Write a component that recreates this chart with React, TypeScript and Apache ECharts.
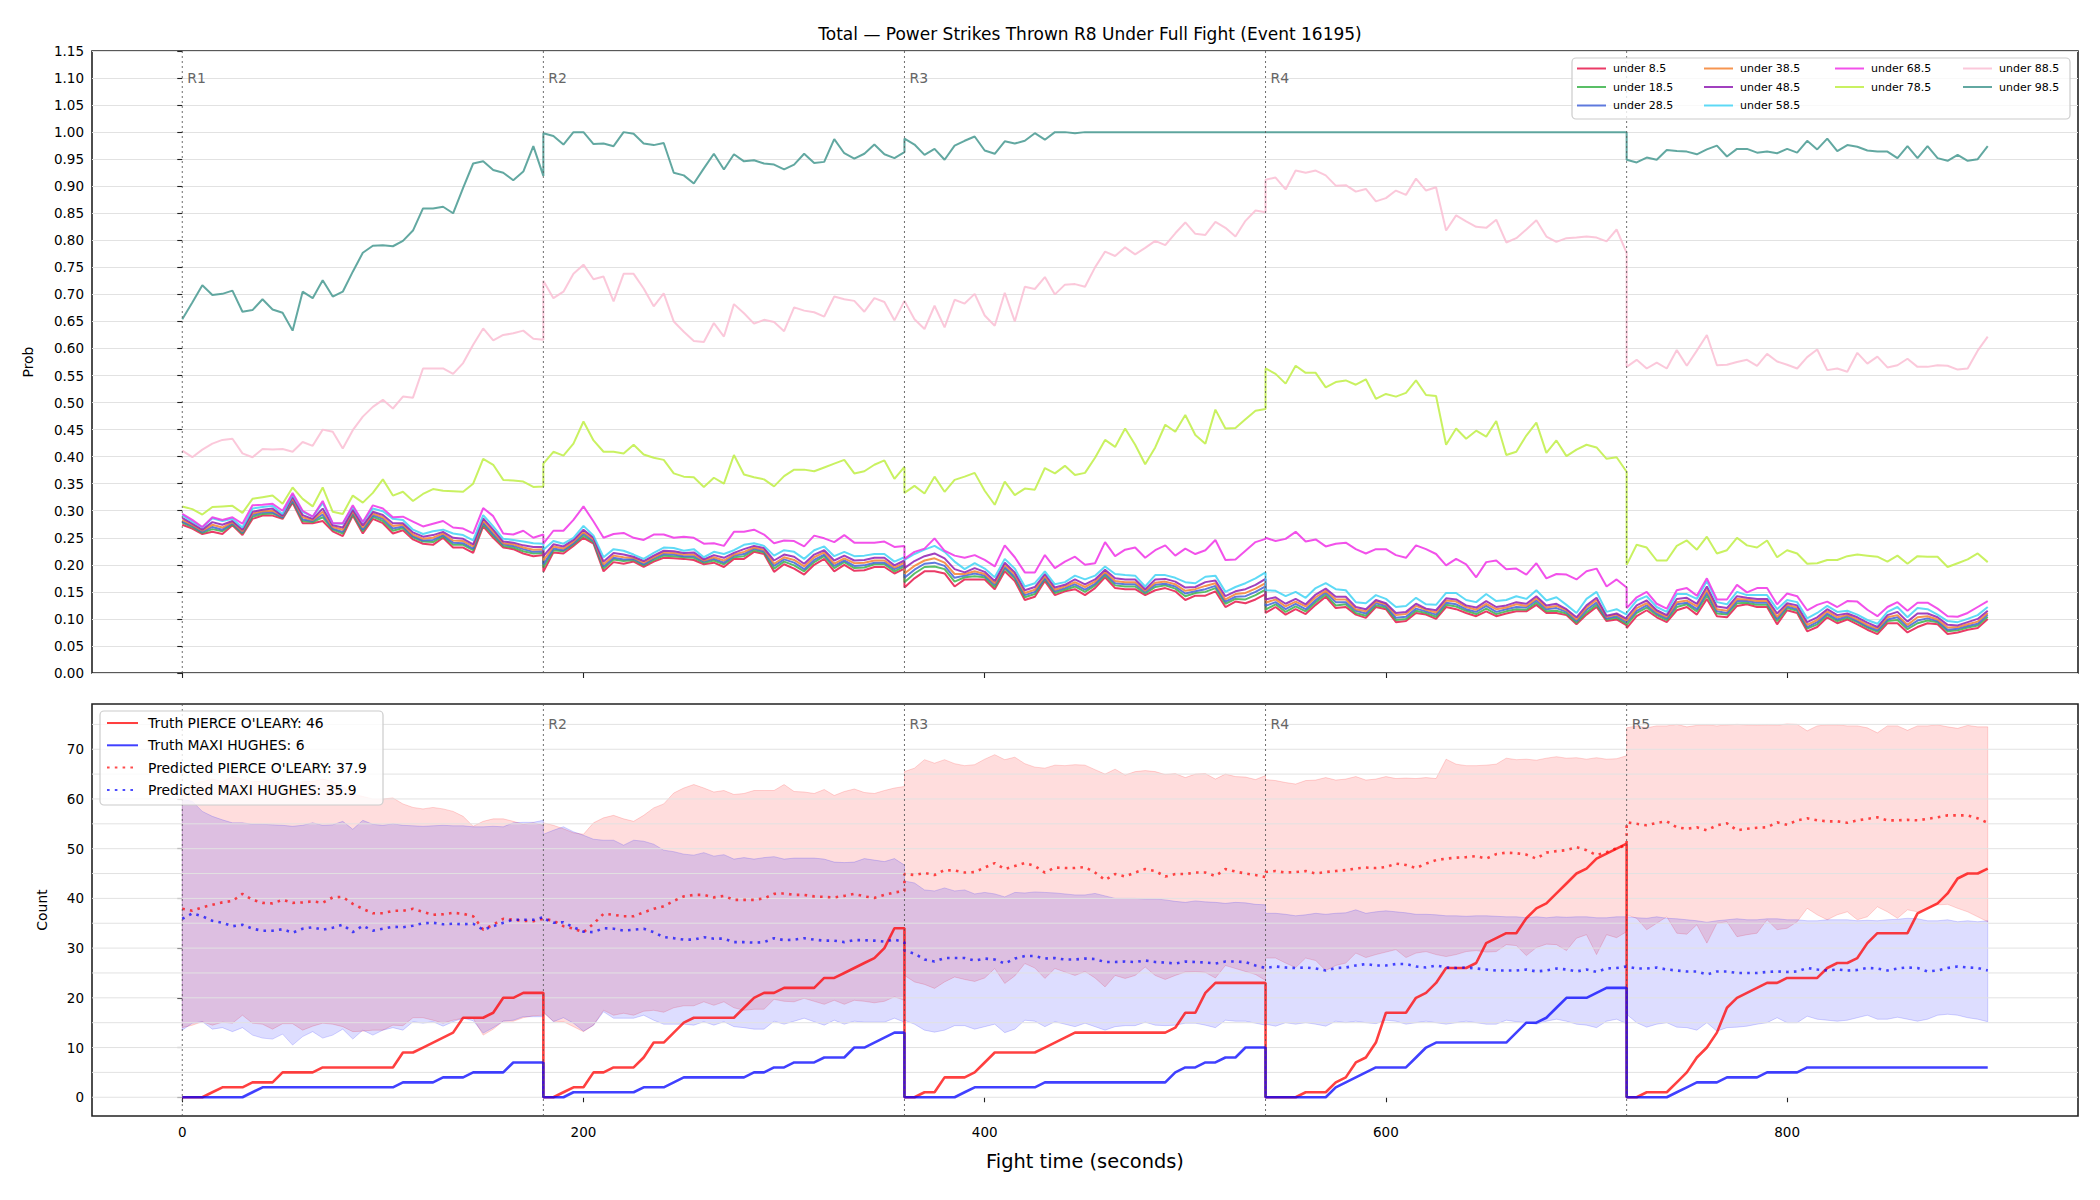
import React, { useEffect, useRef } from "react";
import * as echarts from "echarts";

const FONT = "DejaVu Sans";
const TITLE = "Total — Power Strikes Thrown R8 Under Full Fight (Event 16195)";

// Each round is sampled every 5 s; the round edges appear twice (end of one round, start of the next).
const ROUND_SECONDS = 180;
const STEP_SECONDS = 5;
const ROUND_COUNT = 5;
const ROUND_LABELS = ["R1", "R2", "R3", "R4", "R5"];
const ROUND_STARTS = [0, 180, 360, 540, 720];
const TIMES: number[] = [];
for (let r = 0; r < ROUND_COUNT; r++) {
  for (let k = 0; k <= ROUND_SECONDS / STEP_SECONDS; k++) TIMES.push(r * ROUND_SECONDS + k * STEP_SECONDS);
}

const X_TICKS = [0, 200, 400, 600, 800];
const COUNT_TICKS = [0, 10, 20, 30, 40, 50, 60, 70];
const COUNT_GRID = [0, 5, 10, 15, 20, 25, 30, 35, 40, 45, 50, 55, 60, 65, 70, 75];

const THRESHOLDS = ["under 8.5", "under 18.5", "under 28.5", "under 38.5", "under 48.5", "under 58.5", "under 68.5", "under 78.5", "under 88.5", "under 98.5"];
const LINE_COLORS = ["#e6194b", "#3cb44b", "#4363d8", "#f58231", "#911eb4", "#42d4f4", "#f032e6", "#bfef45", "#fabed4", "#469990"];

// Probability of finishing under each line, one value per sample
const P8 = [
  .274,.267,.257,.261,.257,.273,.255,.285,.291,.291,.285,.315,.277,.277,.281,.262,.253,.291,.258,.285,.277,.258,.264,.247,.239,.237,.250,.232,.232,.222,.271,.250,.232,.229,.221,.216,.218,
  .187,.223,.221,.235,.250,.239,.188,.205,.202,.206,.196,.206,.213,.212,.211,.209,.201,.204,.196,.211,.211,.224,.220,.187,.201,.193,.182,.200,.211,.188,.200,.189,.190,.196,.196,.184,.193,
  .158,.175,.188,.188,.184,.160,.173,.173,.173,.155,.188,.170,.135,.141,.170,.144,.151,.155,.144,.157,.177,.157,.155,.155,.144,.153,.157,.151,.135,.143,.143,.151,.122,.132,.129,.136,.146,
  .111,.122,.108,.118,.109,.126,.141,.120,.122,.108,.102,.122,.118,.094,.096,.111,.108,.100,.122,.118,.111,.105,.114,.105,.110,.114,.114,.126,.111,.111,.107,.090,.108,.122,.096,.099,.088,
  .083,.105,.116,.103,.094,.116,.122,.108,.137,.105,.103,.124,.127,.122,.122,.090,.116,.111,.077,.085,.103,.092,.099,.090,.080,.072,.092,.092,.075,.085,.092,.090,.072,.075,.080,.083,.100,
];
const P18 = [
  .278,.270,.259,.266,.262,.275,.258,.289,.294,.295,.287,.318,.281,.279,.288,.265,.258,.294,.262,.289,.281,.263,.268,.251,.243,.242,.253,.237,.237,.227,.275,.254,.235,.232,.225,.221,.222,
  .195,.227,.225,.238,.254,.242,.193,.210,.207,.209,.199,.209,.217,.216,.214,.213,.204,.208,.201,.214,.216,.227,.223,.193,.206,.199,.188,.205,.216,.194,.205,.194,.195,.201,.201,.188,.197,
  .168,.184,.196,.197,.192,.169,.177,.179,.177,.159,.193,.175,.140,.146,.174,.148,.154,.160,.150,.162,.181,.162,.160,.160,.147,.159,.162,.156,.142,.148,.150,.157,.128,.137,.136,.144,.154,
  .117,.127,.113,.123,.114,.131,.145,.125,.127,.111,.106,.125,.121,.098,.100,.115,.111,.104,.126,.123,.115,.109,.119,.109,.114,.118,.117,.130,.114,.115,.110,.093,.112,.126,.099,.102,.091,
  .089,.111,.121,.107,.098,.122,.127,.114,.144,.110,.108,.129,.130,.126,.126,.096,.120,.115,.082,.090,.107,.096,.102,.094,.084,.076,.096,.098,.081,.092,.097,.094,.077,.079,.084,.088,.104,
];
const P28 = [
  .280,.272,.261,.270,.265,.277,.260,.292,.297,.297,.288,.320,.284,.281,.293,.267,.261,.297,.265,.292,.285,.267,.271,.253,.245,.246,.255,.241,.240,.230,.278,.257,.238,.235,.229,.224,.225,
  .201,.230,.227,.240,.258,.244,.197,.213,.210,.211,.201,.212,.220,.219,.216,.216,.206,.211,.204,.217,.220,.230,.225,.198,.210,.204,.192,.209,.219,.198,.208,.198,.199,.204,.204,.192,.200,
  .176,.191,.202,.204,.198,.176,.180,.184,.180,.163,.196,.178,.144,.150,.176,.151,.157,.164,.154,.165,.184,.166,.164,.164,.150,.163,.165,.160,.147,.151,.155,.161,.132,.141,.142,.150,.160,
  .124,.131,.118,.128,.118,.135,.149,.131,.131,.115,.110,.129,.124,.102,.104,.119,.114,.108,.130,.127,.118,.113,.124,.113,.118,.122,.121,.134,.118,.120,.113,.096,.117,.130,.101,.105,.094,
  .093,.115,.125,.110,.101,.127,.130,.118,.149,.114,.111,.133,.133,.130,.130,.100,.123,.118,.085,.094,.110,.099,.105,.096,.086,.079,.099,.103,.085,.097,.101,.096,.080,.082,.087,.091,.108,
];
const P38 = [
  .283,.274,.263,.274,.269,.279,.262,.295,.299,.300,.290,.323,.288,.283,.298,.270,.265,.299,.269,.295,.288,.272,.274,.256,.248,.250,.258,.245,.244,.234,.282,.261,.240,.238,.232,.228,.229,
  .208,.234,.230,.243,.261,.247,.201,.217,.214,.213,.204,.214,.223,.222,.219,.219,.208,.214,.208,.219,.224,.232,.228,.202,.214,.209,.197,.214,.223,.202,.212,.203,.204,.208,.208,.195,.204,
  .184,.198,.208,.212,.204,.183,.183,.188,.183,.166,.200,.182,.148,.154,.179,.154,.160,.168,.159,.169,.187,.170,.168,.168,.152,.167,.169,.164,.152,.155,.161,.166,.136,.146,.148,.156,.166,
  .130,.136,.123,.132,.123,.140,.152,.136,.136,.118,.114,.132,.127,.107,.109,.124,.117,.112,.134,.132,.122,.117,.128,.118,.121,.127,.124,.138,.121,.124,.116,.099,.121,.135,.104,.108,.097,
  .097,.120,.129,.113,.104,.131,.134,.123,.154,.118,.115,.137,.136,.133,.133,.104,.126,.121,.089,.098,.114,.103,.107,.099,.089,.082,.103,.107,.089,.103,.105,.099,.084,.085,.090,.095,.111,
];
const P48 = [
  .287,.276,.265,.279,.274,.281,.265,.298,.302,.304,.291,.326,.292,.285,.304,.273,.269,.302,.273,.298,.292,.277,.277,.260,.252,.255,.261,.250,.248,.238,.286,.265,.243,.241,.236,.233,.233,
  .216,.238,.234,.246,.265,.250,.206,.222,.219,.215,.207,.217,.226,.225,.222,.223,.210,.218,.213,.222,.229,.235,.231,.208,.219,.215,.202,.219,.227,.208,.217,.208,.209,.213,.213,.199,.208,
  .194,.207,.216,.221,.212,.192,.186,.194,.187,.170,.204,.186,.153,.159,.183,.158,.163,.173,.164,.173,.191,.175,.173,.173,.155,.173,.174,.169,.158,.159,.168,.171,.142,.151,.155,.163,.174,
  .136,.140,.128,.137,.127,.145,.156,.141,.141,.122,.118,.135,.129,.111,.113,.128,.119,.116,.138,.136,.125,.121,.133,.122,.125,.131,.128,.142,.125,.128,.118,.103,.125,.139,.106,.110,.100,
  .103,.125,.134,.116,.107,.137,.139,.128,.160,.123,.120,.142,.139,.137,.137,.110,.129,.125,.094,.103,.118,.107,.110,.103,.093,.085,.107,.113,.095,.110,.110,.103,.089,.088,.094,.100,.115,
];
const P58 = [
  .292,.280,.269,.286,.281,.285,.269,.304,.307,.309,.294,.330,.298,.289,.314,.277,.276,.307,.279,.304,.299,.285,.283,.265,.257,.262,.265,.258,.255,.245,.292,.271,.248,.246,.243,.240,.239,
  .228,.244,.239,.250,.272,.254,.214,.229,.226,.219,.211,.222,.232,.231,.226,.229,.214,.224,.220,.227,.237,.240,.235,.217,.227,.224,.211,.227,.234,.216,.224,.216,.217,.220,.220,.206,.214,
  .209,.220,.228,.235,.224,.206,.192,.203,.193,.177,.211,.193,.160,.166,.188,.164,.168,.180,.173,.180,.197,.183,.181,.180,.160,.181,.181,.176,.168,.166,.178,.180,.150,.159,.166,.175,.186,
  .153,.152,.142,.150,.139,.157,.166,.155,.153,.131,.129,.144,.137,.122,.124,.139,.127,.126,.148,.148,.135,.131,.146,.133,.135,.142,.137,.153,.134,.140,.126,.111,.137,.150,.113,.118,.108,
  .111,.134,.142,.122,.113,.146,.146,.137,.170,.131,.127,.150,.144,.144,.144,.118,.135,.131,.101,.111,.124,.113,.115,.108,.098,.091,.113,.122,.103,.120,.118,.108,.096,.094,.100,.107,.122,
];
const P68 = [
  .294,.283,.270,.288,.283,.288,.276,.310,.311,.313,.300,.333,.300,.289,.318,.277,.277,.310,.279,.310,.304,.288,.289,.280,.271,.276,.281,.269,.267,.258,.305,.290,.258,.256,.263,.250,.256,
  .239,.263,.263,.283,.308,.280,.250,.257,.259,.250,.246,.256,.256,.250,.252,.250,.239,.240,.235,.261,.261,.265,.256,.240,.245,.244,.234,.254,.249,.242,.255,.241,.241,.241,.243,.233,.235,
  .211,.224,.230,.249,.226,.217,.213,.218,.209,.197,.236,.214,.186,.186,.218,.194,.206,.215,.200,.203,.242,.216,.228,.232,.213,.227,.236,.217,.230,.220,.227,.246,.209,.210,.226,.242,.248,
  .250,.244,.248,.261,.243,.247,.234,.239,.241,.229,.221,.229,.229,.218,.213,.236,.229,.220,.199,.211,.201,.177,.205,.208,.192,.193,.182,.203,.175,.183,.182,.173,.188,.193,.160,.173,.158,
  .120,.140,.150,.128,.119,.153,.157,.143,.175,.136,.136,.163,.149,.157,.157,.127,.147,.142,.116,.126,.132,.122,.133,.132,.117,.105,.122,.131,.115,.130,.130,.119,.105,.104,.111,.122,.133,
];
const P78 = [
  .308,.303,.293,.307,.308,.309,.296,.322,.325,.328,.313,.343,.322,.308,.343,.298,.294,.328,.315,.333,.358,.328,.335,.318,.331,.340,.337,.336,.335,.350,.396,.385,.357,.356,.354,.344,.345,
  .387,.409,.402,.424,.465,.430,.409,.409,.406,.422,.404,.398,.394,.369,.363,.362,.344,.361,.350,.403,.367,.362,.358,.345,.364,.376,.376,.373,.380,.387,.394,.369,.373,.385,.393,.359,.381,
  .333,.346,.332,.363,.335,.357,.363,.370,.337,.311,.354,.329,.341,.339,.379,.369,.383,.366,.370,.398,.431,.418,.452,.422,.386,.417,.459,.446,.477,.440,.424,.487,.452,.453,.469,.485,.488,
  .563,.553,.535,.568,.555,.555,.528,.538,.541,.533,.543,.507,.516,.511,.518,.541,.514,.512,.422,.452,.433,.448,.437,.466,.403,.409,.439,.463,.407,.430,.401,.413,.422,.417,.396,.399,.372,
  .200,.237,.232,.208,.208,.235,.245,.228,.252,.221,.227,.250,.236,.232,.245,.214,.227,.221,.202,.203,.209,.209,.216,.219,.217,.215,.206,.217,.202,.216,.215,.215,.196,.203,.210,.221,.205,
];
const P88 = [
  .411,.399,.413,.424,.431,.433,.406,.399,.414,.413,.414,.409,.427,.420,.450,.446,.415,.449,.474,.492,.505,.489,.511,.509,.563,.563,.563,.553,.573,.607,.637,.615,.625,.628,.633,.618,.616,
  .725,.693,.705,.738,.755,.728,.733,.687,.738,.738,.711,.678,.702,.650,.631,.614,.612,.647,.622,.682,.665,.646,.653,.649,.632,.676,.670,.667,.659,.696,.691,.688,.668,.693,.686,.652,.688,
  .689,.654,.636,.679,.639,.690,.683,.701,.661,.642,.703,.650,.714,.710,.732,.700,.718,.719,.714,.750,.779,.771,.787,.774,.786,.799,.791,.813,.833,.812,.810,.834,.823,.807,.836,.855,.852,
  .912,.916,.894,.929,.925,.929,.920,.901,.902,.890,.895,.872,.878,.892,.884,.914,.892,.898,.818,.846,.835,.825,.823,.838,.796,.804,.820,.837,.807,.797,.804,.805,.807,.805,.798,.820,.777,
  .566,.579,.563,.574,.563,.597,.568,.596,.625,.569,.570,.575,.579,.568,.590,.576,.570,.563,.584,.598,.560,.563,.557,.592,.572,.585,.565,.569,.581,.566,.566,.569,.568,.561,.563,.596,.622,
];
const P98 = [
  .654,.685,.717,.699,.701,.707,.668,.671,.691,.672,.666,.633,.705,.693,.726,.696,.705,.742,.777,.790,.791,.789,.799,.818,.859,.859,.862,.850,.897,.942,.946,.930,.925,.911,.927,.974,.919,
  .998,.993,.977,1.000,1.000,.978,.979,.974,1.000,.997,.979,.976,.980,.925,.920,.905,.933,.960,.931,.959,.946,.948,.942,.940,.931,.940,.960,.943,.945,.987,.961,.951,.960,.977,.959,.952,.963,
  .988,.977,.958,.969,.949,.975,.984,.992,.966,.960,.983,.979,.984,.998,.986,1.000,1.000,.998,1.000,1.000,1.000,1.000,1.000,1.000,1.000,1.000,1.000,1.000,1.000,1.000,1.000,1.000,1.000,1.000,1.000,1.000,1.000,
  1.000,1.000,1.000,1.000,1.000,1.000,1.000,1.000,1.000,1.000,1.000,1.000,1.000,1.000,1.000,1.000,1.000,1.000,1.000,1.000,1.000,1.000,1.000,1.000,1.000,1.000,1.000,1.000,1.000,1.000,1.000,1.000,1.000,1.000,1.000,1.000,1.000,
  .949,.944,.953,.949,.967,.965,.964,.959,.968,.975,.955,.969,.969,.962,.964,.961,.969,.962,.984,.968,.988,.965,.976,.973,.966,.964,.964,.952,.974,.952,.974,.952,.947,.958,.947,.950,.974,
];
const PROB_SERIES = [P8, P18, P28, P38, P48, P58, P68, P78, P88, P98];

// Cumulative power strikes thrown per round
const TRUTH_PO = [
  0,0,0,1,2,2,2,3,3,3,5,5,5,5,6,6,6,6,6,6,6,6,9,9,10,11,12,13,16,16,16,17,20,20,21,21,21,
  0,0,1,2,2,5,5,6,6,6,8,11,11,13,15,16,16,16,16,16,18,20,21,21,22,22,22,22,24,24,25,26,27,28,30,34,34,
  0,0,1,1,4,4,4,5,7,9,9,9,9,9,10,11,12,13,13,13,13,13,13,13,13,13,13,14,17,17,21,23,23,23,23,23,23,
  0,0,0,0,1,1,1,3,4,7,8,11,17,17,17,20,21,23,26,26,26,27,31,32,33,33,36,38,39,41,43,45,46,48,49,50,51,
  0,0,1,1,1,3,5,8,10,13,18,20,21,22,23,23,24,24,24,24,26,27,27,28,31,33,33,33,33,37,38,39,41,44,45,45,46,
];
const TRUTH_MH = [
  0,0,0,0,0,0,0,1,2,2,2,2,2,2,2,2,2,2,2,2,2,2,3,3,3,3,4,4,4,5,5,5,5,7,7,7,7,
  0,0,0,1,1,1,1,1,1,1,2,2,2,3,4,4,4,4,4,4,4,5,5,6,6,7,7,7,8,8,8,10,10,11,12,13,13,
  0,0,0,0,0,0,1,2,2,2,2,2,2,2,3,3,3,3,3,3,3,3,3,3,3,3,3,5,6,6,7,7,8,8,10,10,10,
  0,0,0,0,0,0,0,2,3,4,5,6,6,6,6,8,10,11,11,11,11,11,11,11,11,13,15,15,16,18,20,20,20,21,22,22,22,
  0,0,0,0,0,1,2,3,3,3,4,4,4,4,5,5,5,5,6,6,6,6,6,6,6,6,6,6,6,6,6,6,6,6,6,6,6,
];

// Predicted totals with their interval bands
const PRED_PO = [
  37.9,37.5,38.2,38.7,39.2,39.5,40.9,39.7,39.1,39.0,39.7,39.1,39.2,39.4,39.1,40.2,40.3,38.9,37.9,37.0,37.0,37.5,37.5,37.9,37.3,36.7,36.8,37.1,36.9,36.4,33.7,34.7,35.9,35.7,35.5,35.4,35.9,
  36.0,35.5,34.4,33.9,33.2,34.9,36.9,36.7,36.4,36.4,37.2,37.9,38.4,39.5,40.4,40.7,40.7,40.2,40.5,39.7,39.7,39.7,40.0,40.9,41.0,40.7,40.7,40.4,40.3,40.2,40.5,40.9,40.4,40.1,40.7,41.2,41.5,
  44.9,44.7,45.1,44.7,45.7,45.6,45.2,45.3,46.2,47.1,45.9,46.5,47.1,46.5,45.2,46.2,46.1,46.1,46.3,45.2,43.7,44.9,44.4,45.2,45.9,45.5,44.4,44.9,44.9,45.2,45.2,44.5,45.9,45.4,45.0,44.7,44.3,
  45.3,45.5,45.2,45.3,45.5,45.0,45.3,45.5,45.7,46.0,46.2,46.1,46.3,47.0,46.7,46.1,47.0,47.7,48.0,48.2,48.3,48.5,48.0,48.9,49.2,49.1,48.8,48.0,49.2,49.5,49.7,50.3,49.7,48.7,49.3,50.1,50.7,
  55.3,55.0,54.7,55.2,55.5,54.3,54.0,54.3,53.7,54.7,55.1,53.7,54.0,54.2,54.3,55.3,54.8,55.7,56.1,55.7,55.5,55.5,55.2,55.7,56.0,56.3,55.7,55.7,55.8,55.7,56.0,56.3,56.7,56.7,56.7,56.1,55.2,
];
const PRED_MH = [
  35.9,37.0,36.4,35.5,35.1,34.4,34.7,33.9,33.5,33.5,33.8,33.1,33.9,34.2,33.7,34.1,34.7,33.2,34.5,33.5,33.9,34.3,34.2,34.5,35.0,35.1,34.8,34.9,34.8,34.9,33.7,34.4,35.1,35.7,35.7,35.7,36.2,
  36.0,35.1,35.2,34.2,33.3,33.2,34.0,33.9,33.5,33.7,33.9,33.2,32.2,32.0,31.7,31.7,32.2,31.9,31.9,31.2,31.2,31.1,31.2,32.0,31.6,31.7,32.0,31.7,31.5,31.5,31.2,31.6,31.6,31.5,31.3,31.7,31.2,
  29.5,28.9,27.7,27.3,28.0,28.0,28.0,27.5,27.9,27.7,26.9,27.9,28.4,28.4,27.9,28.0,27.7,27.7,27.9,27.8,27.2,27.2,27.3,27.2,27.5,27.2,27.1,26.9,27.3,27.2,27.1,26.9,27.3,27.3,27.2,26.5,26.0,
  26.0,26.3,26.1,26.0,26.1,25.9,25.5,26.0,26.1,26.5,26.8,26.5,26.5,26.8,26.8,26.3,26.1,26.5,26.1,26.0,26.1,25.9,25.7,25.5,25.5,25.5,25.7,25.3,25.5,25.9,25.7,25.3,25.7,25.2,25.9,26.0,26.3,
  26.3,25.9,25.9,26.1,25.7,25.5,25.3,25.3,24.7,25.3,25.3,25.0,25.0,25.0,25.2,25.3,25.2,25.3,26.0,25.7,25.5,25.7,25.5,25.6,26.0,25.9,25.5,25.9,26.1,26.0,25.3,25.5,26.0,26.3,26.1,26.0,25.5,
];
const PO_HI = [
  60.5,63.0,63.5,64.0,63.5,64.5,64.0,63.5,63.5,64.0,63.0,62.5,63.5,63.5,64.0,63.5,62.5,61.0,60.5,60.0,60.0,60.2,59.0,58.3,58.0,58.3,58.0,57.5,56.5,54.5,55.5,56.0,56.0,55.5,54.9,55.2,54.7,
  55.2,54.7,54.0,53.2,52.9,55.2,56.2,56.7,56.0,55.5,56.7,58.2,59.0,61.2,62.2,62.9,62.2,61.4,61.7,60.9,61.1,61.7,61.7,61.7,62.9,61.5,61.4,61.1,61.9,60.7,61.5,62.0,61.3,61.1,61.7,62.2,62.5,
  65.5,66.2,67.9,67.2,67.9,67.1,66.7,66.9,68.0,68.9,67.9,68.4,67.1,66.4,66.2,66.8,66.7,66.9,66.8,65.9,65.0,66.0,64.8,65.5,65.7,65.5,64.9,65.1,64.3,65.0,65.1,64.0,65.0,64.5,64.4,63.9,64.7,
  63.9,63.7,63.3,63.0,63.7,63.8,64.3,63.8,64.0,64.5,63.8,64.0,64.5,64.1,64.2,64.1,64.3,64.1,68.0,67.0,66.7,66.7,66.8,67.0,68.2,67.9,68.0,67.8,68.2,68.5,68.2,68.3,68.0,68.3,68.0,68.1,68.7,
  74.3,74.7,74.3,74.7,74.7,75.0,74.5,74.8,74.9,74.7,74.9,75.0,74.9,74.8,74.9,74.8,75.1,75.0,73.7,74.7,74.9,74.9,74.7,74.7,74.3,73.3,74.7,74.7,73.8,74.7,74.7,74.9,74.5,74.2,74.8,74.5,74.5,
];
const PO_LO = [
  14.0,14.5,15.2,14.5,15.1,14.9,16.5,14.9,14.7,13.7,14.8,14.8,13.5,14.3,14.9,14.7,14.2,13.2,13.3,13.5,13.5,14.5,14.4,16.0,16.0,15.5,14.9,15.5,15.9,15.9,12.5,13.7,15.3,15.3,16.0,16.4,16.5,
  17.0,15.3,15.2,14.2,13.2,14.5,17.5,16.5,16.9,16.5,17.3,17.5,17.1,18.0,18.4,18.4,19.2,18.5,19.2,18.0,17.5,17.7,17.7,19.7,19.3,19.2,19.9,19.3,18.7,19.5,18.7,19.5,19.3,19.0,19.3,20.2,19.5,
  24.5,23.2,22.7,21.9,23.2,24.2,23.7,23.3,24.0,25.9,22.9,24.4,26.9,26.0,23.9,25.9,25.2,24.5,25.3,24.0,22.2,24.5,23.9,24.5,26.2,24.5,23.7,24.5,25.2,25.3,25.1,24.0,26.5,25.9,25.3,24.7,23.5,
  28.0,28.0,27.0,26.1,28.0,27.5,25.5,26.5,27.0,29.0,28.1,28.7,29.2,29.7,28.1,29.0,29.3,28.7,28.3,28.7,29.3,29.5,29.2,29.3,30.7,30.5,28.5,30.1,30.8,30.7,29.5,32.0,32.7,28.7,32.7,32.1,33.3,
  36.7,36.0,33.7,35.0,36.3,33.0,32.8,34.7,31.0,35.0,35.3,32.3,32.7,33.0,35.7,33.7,34.0,35.3,38.0,36.7,35.7,36.7,37.3,35.7,36.3,38.3,37.3,36.0,37.7,37.3,38.0,38.7,38.8,38.0,37.3,36.3,35.3,
];
const MH_HI = [
  60.0,59.5,57.5,56.5,55.8,55.2,55.2,54.9,54.9,54.8,54.7,54.5,54.7,55.2,54.7,54.8,55.5,53.9,55.7,54.9,54.7,55.0,54.7,54.6,54.5,54.6,54.7,54.6,54.6,54.4,54.4,54.5,54.4,55.2,55.3,55.3,55.7,
  52.9,53.7,54.4,53.4,52.7,51.9,51.7,51.7,50.7,51.7,51.5,50.9,49.7,49.4,48.9,48.7,49.2,48.5,48.8,47.9,48.2,47.9,48.2,48.4,47.9,48.1,48.1,48.1,47.9,47.3,47.2,47.3,48.0,47.7,47.4,48.0,46.7,
  43.5,43.1,41.7,41.5,42.1,41.5,41.7,40.9,41.2,40.9,40.3,41.2,41.1,41.3,41.2,41.1,40.9,40.7,40.7,41.0,40.5,40.0,40.0,40.0,39.9,39.9,39.7,39.4,39.2,39.5,39.3,39.2,39.0,39.2,39.1,38.8,38.7,
  37.0,37.0,36.8,36.5,36.7,37.0,36.8,37.0,37.1,37.7,37.0,37.3,37.5,37.3,37.1,36.8,36.8,36.7,36.5,36.5,36.4,36.5,36.5,36.4,36.3,36.3,36.1,36.3,36.1,36.3,36.2,36.3,36.3,36.1,36.1,36.3,36.3,
  36.3,36.1,36.0,36.3,36.0,35.9,35.7,35.5,35.2,35.5,35.7,35.9,35.7,35.7,35.9,35.9,35.7,35.7,35.5,35.5,35.7,35.7,35.7,35.5,35.6,35.5,35.7,35.8,36.0,35.9,35.5,35.5,35.7,35.3,35.5,35.3,35.5,
];
const MH_LO = [
  13.5,14.9,15.2,13.7,14.0,13.2,14.0,12.5,11.9,11.7,12.7,10.5,12.2,13.2,11.9,12.5,13.7,11.7,13.5,12.5,13.5,14.0,13.5,15.2,14.9,15.2,14.3,15.2,15.9,15.4,12.9,14.0,15.3,15.5,16.2,16.2,16.2,
  17.2,15.2,16.0,14.9,13.3,14.5,17.2,15.9,15.9,15.9,16.5,15.5,14.7,14.7,14.7,14.5,15.2,14.5,15.2,14.2,14.0,13.7,13.7,15.3,14.7,15.3,15.9,15.2,14.5,15.5,14.7,15.3,15.1,15.1,15.1,15.9,15.1,
  15.5,14.7,13.5,13.1,13.5,14.4,14.4,13.7,14.2,14.7,13.0,13.7,15.5,15.3,14.2,15.2,14.7,14.2,14.9,14.2,13.5,14.2,14.4,14.4,15.1,14.5,14.4,14.5,14.9,14.9,14.5,14.0,15.5,15.3,15.3,14.9,14.5,
  14.7,14.3,15.0,14.7,15.0,14.7,14.3,15.3,15.0,15.3,15.0,14.8,15.5,15.3,14.7,15.0,15.3,15.0,14.7,15.0,15.3,15.0,14.7,14.7,15.5,15.2,15.0,14.7,15.3,15.7,15.3,14.7,14.5,14.0,15.3,15.7,14.8,
  16.7,15.0,14.1,14.7,15.0,14.1,14.0,13.5,15.0,13.3,14.0,14.1,14.3,14.7,15.0,16.0,15.0,15.0,16.3,15.7,15.5,15.3,15.5,16.0,16.5,15.7,15.7,16.1,15.7,15.3,15.7,16.5,16.7,16.5,16.0,15.7,15.2,
];

const NAME_TRUTH_PO = `Truth PIERCE O'LEARY: ${TRUTH_PO[TRUTH_PO.length - 1]}`;
const NAME_TRUTH_MH = `Truth MAXI HUGHES: ${TRUTH_MH[TRUTH_MH.length - 1]}`;
const NAME_PRED_PO = `Predicted PIERCE O'LEARY: ${PRED_PO[0].toFixed(1)}`;
const NAME_PRED_MH = `Predicted MAXI HUGHES: ${PRED_MH[0].toFixed(1)}`;

const pairs = (vals: number[]) => TIMES.map((t, i) => [t, vals[i]]);

// Filled interval between two bounds, drawn as one polygon through the axis scales
function bandSeries(hi: number[], lo: number[], fill: string, stroke: string) {
  return {
    type: "custom",
    xAxisIndex: 1,
    yAxisIndex: 1,
    z: 1,
    silent: true,
    data: [[0, 0]],
    encode: { x: 0, y: 1 },
    renderItem: (_params: any, api: any) => {
      const top = TIMES.map((t, i) => api.coord([t, hi[i]]));
      const bottom = TIMES.map((t, i) => api.coord([t, lo[i]])).reverse();
      return {
        type: "polygon",
        shape: { points: top.concat(bottom) },
        style: { fill, stroke, lineWidth: 1 },
      };
    },
  };
}

// Dotted round separators with their labels; labels sitting under a legend box are left out
function roundSeries(axisIndex: number, labelValue: number, hiddenLabels: string[]) {
  return {
    type: "custom",
    xAxisIndex: axisIndex,
    yAxisIndex: axisIndex,
    z: 4,
    silent: true,
    data: ROUND_STARTS.map((t) => [t, 0]),
    encode: { x: 0, y: 1 },
    renderItem: (params: any, api: any) => {
      const cs = params.coordSys;
      const p = api.coord([api.value(0), labelValue]);
      const label = ROUND_LABELS[params.dataIndex];
      const children: any[] = [
        {
          type: "line",
          shape: { x1: p[0], y1: cs.y, x2: p[0], y2: cs.y + cs.height },
          style: { stroke: "#555555", lineWidth: 1, lineDash: [2, 3], opacity: 0.85 },
        },
      ];
      if (!hiddenLabels.includes(label)) {
        children.push({
          type: "text",
          x: p[0] + 5,
          y: p[1],
          style: {
            text: label,
            fill: "#666666",
            fontSize: 14,
            fontFamily: FONT,
            align: "left",
            verticalAlign: "middle",
          },
        });
      }
      return { type: "group", children };
    },
  };
}

function buildOption() {
  const axisTickStyle = { show: true, length: 5, lineStyle: { color: "#222", width: 1.1 } };
  const labelStyle = { color: "#000", fontSize: 13.5, fontFamily: FONT };

  const probLines = PROB_SERIES.map((vals, i) => ({
    name: THRESHOLDS[i],
    type: "line",
    xAxisIndex: 0,
    yAxisIndex: 0,
    z: 3,
    data: pairs(vals),
    symbol: "none",
    showSymbol: false,
    silent: true,
    color: LINE_COLORS[i],
    lineStyle: { width: 2, color: LINE_COLORS[i], opacity: 0.85 },
  }));

  const countGrid = {
    type: "custom",
    xAxisIndex: 1,
    yAxisIndex: 1,
    z: 2,
    silent: true,
    data: COUNT_GRID.map((v) => [0, v]),
    encode: { x: 0, y: 1 },
    renderItem: (params: any, api: any) => {
      const cs = params.coordSys;
      const y = api.coord([0, api.value(1)])[1];
      return {
        type: "line",
        shape: { x1: cs.x, y1: y, x2: cs.x + cs.width, y2: y },
        style: { stroke: "#e2e2e2", lineWidth: 1 },
      };
    },
  };

  const countLine = (name: string, vals: number[], color: string, dotted: boolean) => ({
    name,
    type: "line",
    xAxisIndex: 1,
    yAxisIndex: 1,
    z: 3,
    data: pairs(vals),
    symbol: "none",
    showSymbol: false,
    silent: true,
    color,
    lineStyle: dotted
      ? { width: 2.6, color, opacity: 0.7, type: [2.6, 5.2], cap: "butt" }
      : { width: 2.6, color, opacity: 0.75 },
  });

  // Legend handles are plain line segments: the marker a line legend adds is made invisible
  const hiddenMarker = { opacity: 0, borderWidth: 0 };

  const topLegendCols = [[0, 1, 2], [3, 4, 5], [6, 7], [8, 9]];
  const topLegendLeft = [1576, 1703, 1834, 1962];
  const topLegends = topLegendCols.map((idx, c) => ({
    orient: "vertical",
    left: topLegendLeft[c],
    top: 63,
    padding: 0,
    itemWidth: 29,
    itemHeight: 12,
    itemGap: 7.5,
    z: 20,
    selectedMode: false,
    itemStyle: hiddenMarker,
    data: idx.map((i) => THRESHOLDS[i]),
    textStyle: { fontSize: 11, fontFamily: FONT, color: "#000", padding: [0, 0, 0, 2] },
  }));

  const bottomLegend = {
    orient: "vertical",
    left: 106,
    top: 716,
    padding: 0,
    itemWidth: 31,
    itemHeight: 14,
    itemGap: 8.3,
    z: 20,
    selectedMode: false,
    itemStyle: hiddenMarker,
    data: [NAME_TRUTH_PO, NAME_TRUTH_MH, NAME_PRED_PO, NAME_PRED_MH],
    textStyle: { fontSize: 13.9, fontFamily: FONT, color: "#000", padding: [0, 0, 0, 5] },
  };

  return {
    animation: false,
    backgroundColor: "#ffffff",
    textStyle: { fontFamily: FONT },
    title: {
      text: TITLE,
      left: 1085,
      top: 20,
      textAlign: "center",
      textStyle: { fontSize: 17, fontWeight: "normal", color: "#000", fontFamily: FONT },
    },
    grid: [
      { left: 92, top: 51, width: 1986, height: 622, show: true, borderColor: "#222", borderWidth: 1.6, backgroundColor: "transparent" },
      { left: 92, top: 704, width: 1986, height: 412, show: true, borderColor: "#222", borderWidth: 1.6, backgroundColor: "transparent" },
    ],
    xAxis: [
      {
        type: "value",
        gridIndex: 0,
        min: -45,
        max: 945,
        axisLine: { show: false },
        axisTick: { ...axisTickStyle, customValues: X_TICKS },
        axisLabel: { show: false },
        splitLine: { show: false },
      },
      {
        type: "value",
        gridIndex: 1,
        min: -45,
        max: 945,
        name: "Fight time (seconds)",
        nameLocation: "middle",
        nameGap: 36,
        nameTextStyle: { fontSize: 19.4, color: "#000", fontFamily: FONT },
        axisLine: { show: false },
        axisTick: { ...axisTickStyle, customValues: X_TICKS },
        axisLabel: { ...labelStyle, customValues: X_TICKS, margin: 9 },
        splitLine: { show: false },
      },
    ],
    yAxis: [
      {
        type: "value",
        gridIndex: 0,
        min: 0,
        max: 1.15,
        interval: 0.05,
        name: "Prob",
        nameLocation: "middle",
        nameGap: 57,
        nameTextStyle: { fontSize: 13.9, color: "#000", fontFamily: FONT },
        axisLine: { show: false },
        axisTick: axisTickStyle,
        axisLabel: { ...labelStyle, margin: 8, formatter: (v: number) => v.toFixed(2) },
        splitLine: { show: true, lineStyle: { color: "#e2e2e2", width: 1 } },
      },
      {
        type: "value",
        gridIndex: 1,
        min: -3.77,
        max: 79.1,
        name: "Count",
        nameLocation: "middle",
        nameGap: 43,
        nameTextStyle: { fontSize: 13.9, color: "#000", fontFamily: FONT },
        axisLine: { show: false },
        axisTick: { ...axisTickStyle, customValues: COUNT_TICKS },
        axisLabel: { ...labelStyle, margin: 8, customValues: COUNT_TICKS },
        splitLine: { show: false },
      },
    ],
    legend: [...topLegends, bottomLegend],
    graphic: [
      {
        type: "rect",
        z: 15,
        shape: { x: 1572, y: 58, width: 498, height: 61, r: 4 },
        style: { fill: "rgba(255,255,255,0.8)", stroke: "#cccccc", lineWidth: 1.2 },
        silent: true,
      },
      {
        type: "rect",
        z: 15,
        shape: { x: 100, y: 711, width: 283, height: 94, r: 4 },
        style: { fill: "rgba(255,255,255,0.8)", stroke: "#cccccc", lineWidth: 1.2 },
        silent: true,
      },
    ],
    series: [
      ...probLines,
      roundSeries(0, 1.1, ["R5"]),
      bandSeries(PO_HI, PO_LO, "rgba(255,0,0,0.135)", "rgba(255,0,0,0.16)"),
      bandSeries(MH_HI, MH_LO, "rgba(0,0,255,0.135)", "rgba(0,0,255,0.16)"),
      countGrid,
      countLine(NAME_TRUTH_PO, TRUTH_PO, "#ff0000", false),
      countLine(NAME_TRUTH_MH, TRUTH_MH, "#0000ff", false),
      countLine(NAME_PRED_PO, PRED_PO, "#ff0000", true),
      countLine(NAME_PRED_MH, PRED_MH, "#0000ff", true),
      roundSeries(1, 75, ["R1"]),
    ],
  };
}

export default function App() {
  const ref = useRef<HTMLDivElement>(null);
  useEffect(() => {
    if (!ref.current) return;
    const chart = echarts.init(ref.current, undefined, { renderer: "svg", width: 2100, height: 1200 });
    chart.setOption(buildOption() as any);
    return () => chart.dispose();
  }, []);
  return (
    <div
      ref={ref}
      style={{ position: "fixed", left: 0, top: 0, width: 2100, height: 1200, background: "#fff" }}
    />
  );
}
